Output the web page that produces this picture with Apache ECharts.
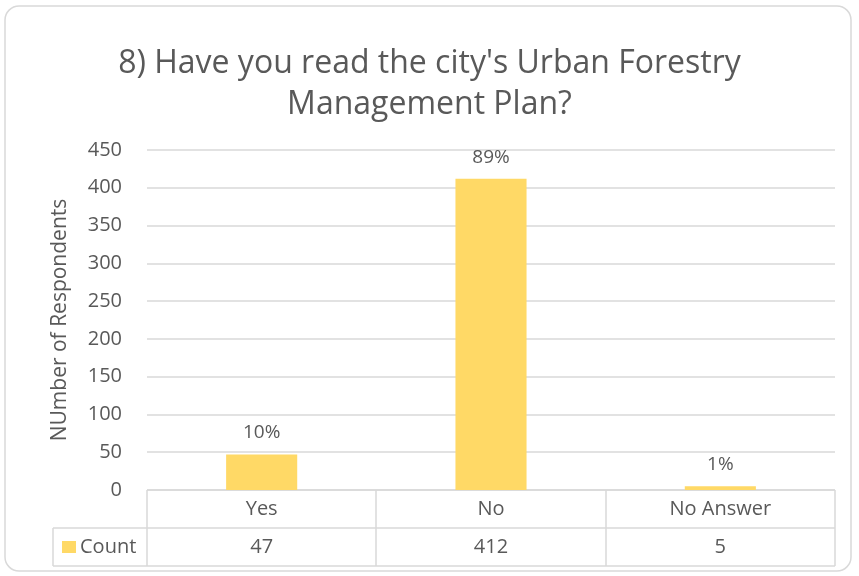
<!DOCTYPE html>
<html lang="en">
<head>
<meta charset="UTF-8" />
<title>Urban Forestry Management Plan</title>
<script src="https://cdn.jsdelivr.net/npm/echarts@6/dist/echarts.min.js"></script>
<style>
  html, body { margin: 0; padding: 0; background: #fff; }
  #chart { width: 859px; height: 576px; }
</style>
</head>
<body>
<div id="chart"></div>
<script>
// chart data
const categories = ["Yes", "No", "No Answer"];
const counts = [47, 412, 5];
const yTicks = [0, 50, 100, 150, 200, 250, 300, 350, 400, 450];

const total = counts.reduce((a, b) => a + b, 0);
const FONT = "Open Sans";
const TEXT = "#595959";
const LINE = "#d9d9d9";

// grid box, the data table hangs underneath it
const G = { left: 147, right: 835, top: 150, bottom: 490 };
const rowH = 38;
const tableLeft = 53;

const chart = echarts.init(document.getElementById("chart"));

// table lines
function line(x1, y1, x2, y2) {
    return { type: "line", shape: { x1, y1, x2, y2 }, style: { stroke: LINE, lineWidth: 1.5 }, silent: true };
}
const colW = (G.right - G.left) / categories.length;
const table = [
    line(G.left, G.bottom, G.right, G.bottom),
    line(tableLeft, G.bottom + rowH, G.right, G.bottom + rowH),
    line(tableLeft, G.bottom + 2 * rowH, G.right, G.bottom + 2 * rowH),
    line(tableLeft, G.bottom + rowH, tableLeft, G.bottom + 2 * rowH)
];
for (let i = 0; i <= categories.length; i++) {
    const x = Math.round(G.left + i * colW);
    table.push(line(x, G.bottom, x, G.bottom + 2 * rowH));
}

chart.setOption({
    animation: false,
    textStyle: { fontFamily: FONT },
    title: {
        text: "8) Have you read the city's Urban Forestry\nManagement Plan?",
        left: "center",
        top: 38,
        textStyle: { fontFamily: FONT, fontSize: 32, fontWeight: "normal", color: TEXT, lineHeight: 41 }
    },
    grid: { left: G.left, right: 859 - G.right, top: G.top, bottom: 576 - G.bottom },
    xAxis: [
        {
            type: "category",
            data: categories,
            axisLine: { show: false },
            axisTick: { show: false },
            axisLabel: { color: TEXT, fontSize: 20, margin: 9 }
        },
        {
            type: "category",
            position: "bottom",
            offset: rowH,
            data: counts.map(String),
            axisLine: { show: false },
            axisTick: { show: false },
            axisLabel: { color: TEXT, fontSize: 20, margin: 9 }
        }
    ],
    yAxis: {
        type: "value",
        min: yTicks[0],
        max: yTicks[yTicks.length - 1],
        interval: yTicks[1] - yTicks[0],
        name: "NUmber of Respondents",
        nameLocation: "middle",
        nameGap: 76,
        nameTextStyle: { color: TEXT, fontSize: 21 },
        axisLabel: { color: TEXT, fontSize: 20, margin: 25 },
        splitLine: { lineStyle: { color: LINE, width: 1.5 } }
    },
    series: [
        {
            name: "Count",
            type: "bar",
            data: counts,
            barWidth: "31%",
            itemStyle: { color: "#FFD966" },
            label: {
                show: true,
                position: "top",
                distance: 12,
                color: TEXT,
                fontSize: 19,
                formatter: p => Math.round(p.value / total * 100) + "%"
            }
        }
    ],
    graphic: [
        {
            type: "rect",
            shape: { x: 5, y: 6, width: 846, height: 565, r: 14 },
            style: { fill: "none", stroke: LINE, lineWidth: 1.5 },
            silent: true
        },
        ...table,
        {
            type: "rect",
            shape: { x: 62, y: G.bottom + rowH + 13, width: 14, height: 12 },
            style: { fill: "#FFD966" }
        },
        {
            type: "text",
            x: 80,
            y: G.bottom + rowH * 1.5,
            style: { text: "Count", fill: TEXT, font: "20px " + FONT, verticalAlign: "middle" }
        }
    ]
});
</script>
</body>
</html>
